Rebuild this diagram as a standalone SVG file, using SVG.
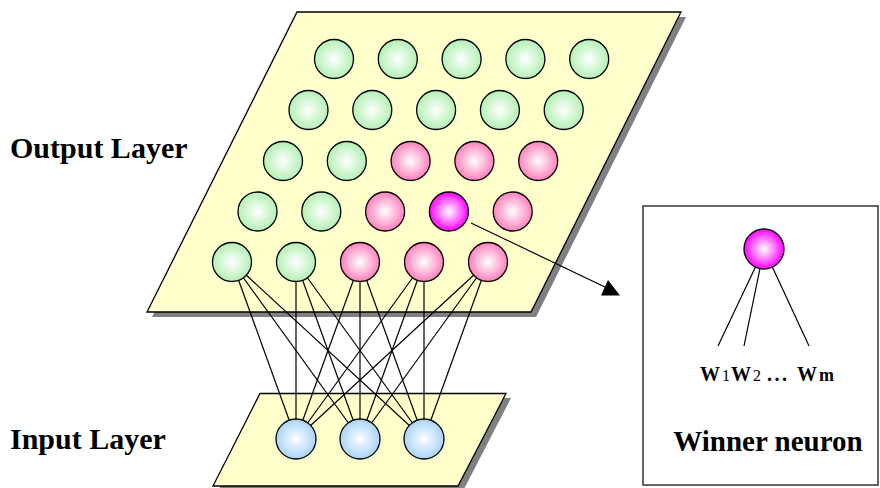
<svg xmlns="http://www.w3.org/2000/svg" width="880" height="488" viewBox="0 0 880 488">
  <defs>
    <radialGradient id="gGreen" cx="50%" cy="50%" r="50%">
      <stop offset="0" stop-color="#ffffff"/>
      <stop offset="1" stop-color="#b4f0b4"/>
    </radialGradient>
    <radialGradient id="gPink" cx="50%" cy="50%" r="50%">
      <stop offset="0" stop-color="#ffffff"/>
      <stop offset="1" stop-color="#ff80bc"/>
    </radialGradient>
    <radialGradient id="gMagenta" cx="50%" cy="50%" r="50%">
      <stop offset="0" stop-color="#ffffff"/>
      <stop offset="1" stop-color="#ff00ff"/>
    </radialGradient>
    <radialGradient id="gBlue" cx="50%" cy="50%" r="50%">
      <stop offset="0" stop-color="#ffffff"/>
      <stop offset="1" stop-color="#a8d4f6"/>
    </radialGradient>
  </defs>
  <style>
    .plane { fill: #ffffcc; stroke: #000; stroke-width: 1.3; }
    .shadow { fill: #808080; }
    .link { stroke: #000; stroke-width: 1.2; fill: none; }
    .n { stroke: #000; stroke-width: 1.3; }
    .green { fill: url(#gGreen); }
    .pink { fill: url(#gPink); }
    .win { fill: url(#gMagenta); }
    .blue { fill: url(#gBlue); }
    .label { font-family: "Liberation Serif", "Times New Roman", serif; font-weight: bold; fill: #000; }
  </style>

  <!-- output plane -->
  <g id="output-plane">
    <polygon class="shadow" points="302,17 686,17 536,317 152,317"/>
    <polygon class="plane" points="297,12 681,12 531,312 147,312"/>
  </g>

  <!-- input plane -->
  <g id="input-plane">
    <polygon class="shadow" points="265,398 511,398 463,491 218,491"/>
    <polygon class="plane" points="260,393.5 506,393.5 458,486 213,486"/>
  </g>

  <!-- connectors -->
  <g id="connectors">
    <g id="full-links">
      <line class="link" x1="232" y1="262" x2="296" y2="439"/>
      <line class="link" x1="232" y1="262" x2="360" y2="439"/>
      <line class="link" x1="232" y1="262" x2="424" y2="439"/>
      <line class="link" x1="296" y1="262" x2="296" y2="439"/>
      <line class="link" x1="296" y1="262" x2="360" y2="439"/>
      <line class="link" x1="296" y1="262" x2="424" y2="439"/>
      <line class="link" x1="360" y1="262" x2="296" y2="439"/>
      <line class="link" x1="360" y1="262" x2="360" y2="439"/>
      <line class="link" x1="360" y1="262" x2="424" y2="439"/>
      <line class="link" x1="424" y1="262" x2="296" y2="439"/>
      <line class="link" x1="424" y1="262" x2="360" y2="439"/>
      <line class="link" x1="424" y1="262" x2="424" y2="439"/>
      <line class="link" x1="488" y1="262" x2="296" y2="439"/>
      <line class="link" x1="488" y1="262" x2="360" y2="439"/>
      <line class="link" x1="488" y1="262" x2="424" y2="439"/>
    </g>
    <g id="winner-arrow">
      <line class="link" x1="471" y1="223" x2="607" y2="288"/>
      <polygon points="601,295.5 620,295.5 608,280" fill="#000"/>
    </g>
  </g>

  <!-- output neurons, 5 x 5 grid -->
  <g id="output-neurons">
    <circle id="o11" class="n green" cx="334" cy="59" r="19.5"/>
    <circle id="o12" class="n green" cx="397.8" cy="59" r="19.5"/>
    <circle id="o13" class="n green" cx="461.6" cy="59" r="19.5"/>
    <circle id="o14" class="n green" cx="525.4" cy="59" r="19.5"/>
    <circle id="o15" class="n green" cx="589.2" cy="59" r="19.5"/>

    <circle id="o21" class="n green" cx="308.5" cy="110" r="19.5"/>
    <circle id="o22" class="n green" cx="372.3" cy="110" r="19.5"/>
    <circle id="o23" class="n green" cx="436.1" cy="110" r="19.5"/>
    <circle id="o24" class="n green" cx="499.9" cy="110" r="19.5"/>
    <circle id="o25" class="n green" cx="563.7" cy="110" r="19.5"/>

    <circle id="o31" class="n green" cx="283" cy="161" r="19.5"/>
    <circle id="o32" class="n green" cx="346.8" cy="161" r="19.5"/>
    <circle id="o33" class="n pink" cx="410.6" cy="161" r="19.5"/>
    <circle id="o34" class="n pink" cx="474.4" cy="161" r="19.5"/>
    <circle id="o35" class="n pink" cx="538.2" cy="161" r="19.5"/>

    <circle id="o41" class="n green" cx="257.5" cy="211.5" r="19.5"/>
    <circle id="o42" class="n green" cx="321.3" cy="211.5" r="19.5"/>
    <circle id="o43" class="n pink" cx="385.1" cy="211.5" r="19.5"/>
    <circle id="o44" class="n win" cx="448.9" cy="211.5" r="19.5"/>
    <circle id="o45" class="n pink" cx="512.7" cy="211.5" r="19.5"/>

    <circle id="o51" class="n green" cx="232" cy="262" r="19.5"/>
    <circle id="o52" class="n green" cx="296" cy="262" r="19.5"/>
    <circle id="o53" class="n pink" cx="360" cy="262" r="19.5"/>
    <circle id="o54" class="n pink" cx="424" cy="262" r="19.5"/>
    <circle id="o55" class="n pink" cx="488" cy="262" r="19.5"/>
  </g>

  <!-- input neurons -->
  <g id="input-neurons">
    <circle id="i1" class="n blue" cx="296" cy="439" r="20"/>
    <circle id="i2" class="n blue" cx="360" cy="439" r="20"/>
    <circle id="i3" class="n blue" cx="424" cy="439" r="20"/>
  </g>

  <!-- winner neuron detail -->
  <g id="winner-box">
    <rect x="643" y="206" width="235" height="279" fill="#fff" stroke="#333" stroke-width="1.5"/>
  </g>
  <g id="winner-detail">
    <line class="link" x1="764" y1="249" x2="718" y2="346"/>
    <line class="link" x1="764" y1="249" x2="744" y2="346"/>
    <line class="link" x1="764" y1="249" x2="809" y2="346"/>
    <circle id="winner" class="n win" cx="764" cy="249" r="20"/>
    <text class="label" y="381" font-size="20"><tspan x="700">W</tspan><tspan x="722" font-size="16" font-weight="normal">1</tspan><tspan x="731">W</tspan><tspan x="753" font-size="16" font-weight="normal">2</tspan><tspan x="767" letter-spacing="2.5">...</tspan><tspan x="797">W</tspan><tspan x="819" font-size="18">m</tspan></text>
    <text class="label" x="768" y="451" font-size="29" text-anchor="middle">Winner neuron</text>
  </g>

  <!-- layer labels -->
  <g id="labels">
    <text class="label" x="10" y="158" font-size="30">Output Layer</text>
    <text class="label" x="10" y="449" font-size="30">Input Layer</text>
  </g>
</svg>
